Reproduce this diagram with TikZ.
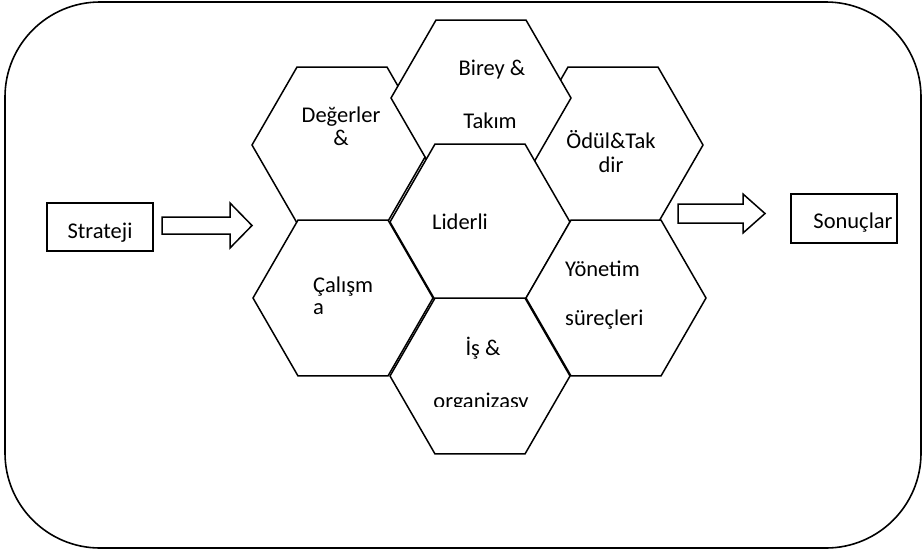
\documentclass[tikz,border=0pt]{standalone}
\usepackage{fontspec}
\setmainfont{Carlito}
\usetikzlibrary{positioning,shapes.geometric}

\begin{document}
\begin{tikzpicture}[x=1pt,y=-1pt]
	\tikzstyle{hexa}=[regular polygon, regular polygon sides=6, minimum size=180pt, inner sep=0pt, draw=black, fill=white, line width=1.5pt]
	\tikzstyle{box}=[rectangle, draw=black, line width=1.5pt, inner sep=0pt]
	\tikzstyle{lbl}=[inner sep=0pt, anchor=base, font=\fontsize{22.5}{27}\selectfont]
	\tikzstyle{blockarrow}=[draw=black, fill=white, line width=1.5pt, line join=miter]

	\useasboundingbox (0,0) rectangle (923,552);
	\draw[line width=1.6pt, rounded corners=95pt] (5,2) rectangle (921,548);

	% honeycomb, back to front
	\node (deg) [hexa] at (342,145) {};
	\node (odl) [hexa] at (613,145) {};
	\node (bir) [hexa] at (481,98) {};
	\node (lid) [hexa] at (480,222) {};
	\node (cal) [hexa] at (343,298) {};
	\node (yon) [hexa] at (616,298) {};
	\node (isorg) [hexa] at (480,376) {};

	\node (tdeg) [lbl] at (341,122) {Değerler};
	\node (tdegb) [lbl, below=23pt of tdeg.base, anchor=base] {\&};
	\node (tbir) [lbl] at (492,75) {Birey \&};
	\node (tbirb) [lbl, below=53pt of tbir.base, anchor=base, xshift=-2pt] {Takım};
	\node (todl) [lbl] at (611,148) {Ödül\&Tak};
	\node (todlb) [lbl, below=24pt of todl.base, anchor=base] {dir};
	\node (tlid) [lbl] at (460,229) {Liderli};
	\node (tcal) [lbl, anchor=base west] at (313,292) {Çalışm};
	\node (tcalb) [lbl, below=22pt of tcal.base west, anchor=base west] {a};
	\node (tyon) [lbl, anchor=base west] at (565,276) {Yönetim};
	\node (tyonb) [lbl, below=49pt of tyon.base west, anchor=base west] {süreçleri};
	\node (tis) [lbl] at (483,355) {İş \&};
	\begin{scope}
		\clip (420,380) rectangle (545,406);
		\node (tisb) [lbl] at (481,408) {organizasy};
	\end{scope}

	% input and output
	\node (strat) [box, minimum width=106pt, minimum height=48pt] at (100,227) {};
	\node (tstrat) [lbl] at (100,238) {Strateji};
	\node (son) [box, minimum width=106pt, minimum height=49pt] at (844,218.5) {};
	\node (tson) [lbl] at (853,228) {Sonuçlar};

	\draw[blockarrow] (162,217) -- (230,217) -- (230,203) -- (252,225.5) -- (230,248) -- (230,234) -- (162,234) -- cycle;
	\draw[blockarrow] (678,204) -- (743,204) -- (743,194) -- (765,213.5) -- (743,233) -- (743,223) -- (678,223) -- cycle;
\end{tikzpicture}
\end{document}
